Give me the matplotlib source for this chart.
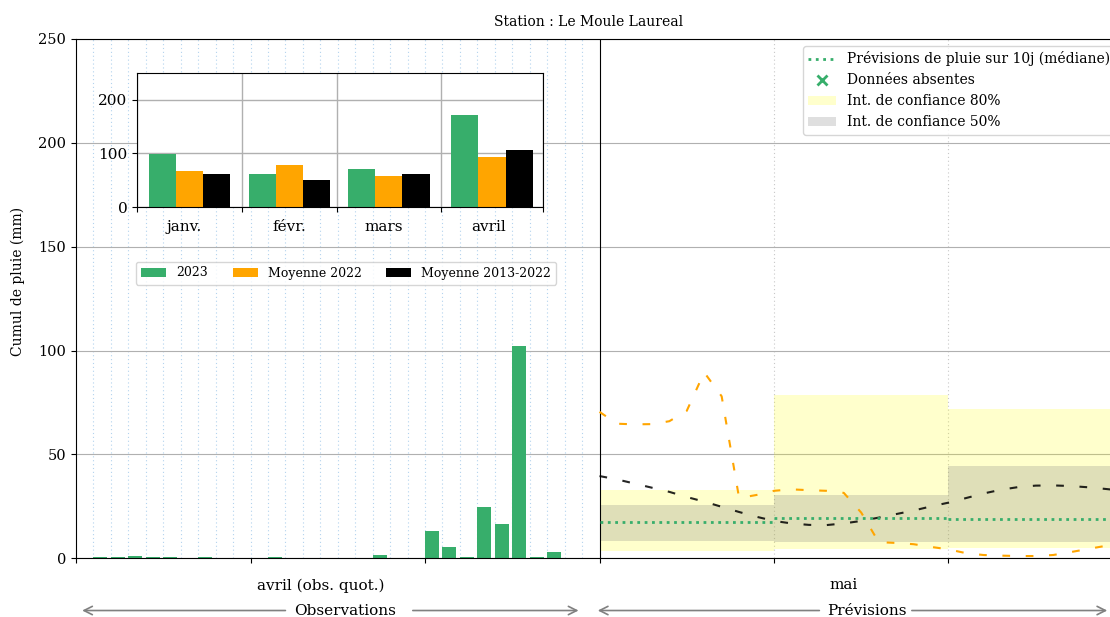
import numpy as np
import matplotlib
matplotlib.use("Agg")
import matplotlib.pyplot as plt
from matplotlib.lines import Line2D
from matplotlib.patches import Patch
import matplotlib.transforms as mtransforms

plt.rcParams['font.family'] = ['DejaVu Serif']
plt.rcParams['font.size'] = 10

#########
#########data#########
#########
station = "Station : Le Moule Laureal"

# daily observations for april (mm), one value per day slot
obs_days = np.arange(1, 30)
obs_rain = [0.6, 0.6, 1.2, 0.6, 0.6, 0.0, 0.6, 0.0, 0.0, 0.0,
            0.6, 0.0, 0.0, 0.0, 0.0, 0.0, 1.8, 0.0, 0.0, 13.3,
            5.6, 0.8, 24.5, 16.5, 102.0, 0.8, 3.0, 0.0, 0.0]

# forecast blocks of 10 days
fc_start = [30, 40, 50]
fc_median = [17.6, 19.3, 18.7]
fc_q10 = [3.5, 4.5, 5.1]
fc_q90 = [32.9, 78.7, 71.8]
fc_q25 = [8.5, 7.9, 8.0]
fc_q75 = [25.7, 30.6, 44.6]

# climatology curves over the forecast period
clim_days = np.arange(30, 61)
mean_2022 = [70.5, 64.8, 64.5, 64.6, 66.0, 71.0, 89.5, 78.0, 29.0, 30.5,
             32.5, 33.2, 32.8, 32.5, 31.5, 22.0, 7.8, 7.4, 6.8, 5.5,
             4.3, 2.5, 1.6, 1.3, 1.1, 1.1, 1.6, 3.0, 4.5, 6.0, 7.5]
mean_2013_2022 = [39.6, 38.0, 36.0, 34.0, 32.0, 29.5, 27.3, 24.8, 22.3, 20.0,
                  18.0, 16.8, 16.1, 16.0, 16.8, 18.0, 19.6, 21.3, 23.0, 25.0,
                  26.8, 29.0, 31.2, 33.0, 34.3, 35.0, 35.1, 34.8, 34.2, 33.4, 32.5]

# monthly totals (inset)
months = ["janv.", "févr.", "mars", "avril"]
month_len = [31, 28, 31, 30]
monthly_2023 = [99, 61, 70, 172]
monthly_2022 = [67.5, 78, 57, 93]
monthly_2013_2022 = [61, 51, 61, 107]

green = "#37ae6b"

#########
#########main axes#########
#########
fig = plt.figure(figsize=(11.1, 6.17), dpi=100)
ax = fig.add_axes([0.0685, 0.0951, 0.9432, 0.8417])

ax.set_xlim(0, 60)
ax.set_ylim(0, 250)
ax.set_yticks(np.arange(0, 251, 50))
ax.set_xticks(np.arange(0, 61, 10))
ax.set_xticklabels([])
ax.tick_params(axis="y", labelsize=10.5)
ax.yaxis.grid(True, color="#b0b0b0", lw=0.8)
ax.set_axisbelow(True)

# day separators in the observation part, and forecast block limits
ax.vlines(obs_days, 0, 250, colors="#b3d3ee", linestyles=(0, (1, 2.5)), lw=0.8, zorder=0.5)
ax.vlines([40, 50], 0, 250, colors="#c8c8c8", linestyles=(0, (1, 2.5)), lw=0.8, zorder=0.5)
ax.axvline(30, color="k", lw=0.8, zorder=3)

ax.bar(obs_days, obs_rain, width=0.8, align="edge", color=green, zorder=2)

# confidence intervals
q90h = [b - a for a, b in zip(fc_q10, fc_q90)]
q75h = [b - a for a, b in zip(fc_q25, fc_q75)]
ax.bar(fc_start, q90h, bottom=fc_q10, width=10, align="edge", color="yellow", alpha=0.2, zorder=1)
ax.bar(fc_start, q75h, bottom=fc_q25, width=10, align="edge", color="grey", alpha=0.25, zorder=1)
ax.hlines(fc_median, fc_start, [s + 10 for s in fc_start], colors=green,
          linestyles=(0, (1, 1.65)), lw=2, zorder=4)

ax.plot(clim_days, mean_2022, color="orange", lw=1.5, dashes=(3.7, 7.5), zorder=3)
ax.plot(clim_days, mean_2013_2022, color="k", lw=1.5, dashes=(3.7, 7.5), zorder=3, alpha=0.85)

ax.set_ylabel("Cumul de pluie (mm)")
ax.yaxis.set_label_coords(-0.049, 0.534)
fig.text(589 / 1110, 1 - 22 / 617, station, ha="center", va="center", fontsize=10)

# x labels and arrows under the axis
trans = mtransforms.blended_transform_factory(ax.transData, ax.transAxes)
ax.text(14, -0.052, "avril (obs. quot.)", transform=trans, ha="center", va="center", fontsize=11)
ax.text(44, -0.052, "mai", transform=trans, ha="center", va="center", fontsize=11)
ya = -0.1005
ax.text(15.4, ya, "Observations", transform=trans, ha="center", va="center", fontsize=11)
ax.text(45.3, ya, "Prévisions", transform=trans, ha="center", va="center", fontsize=11)
arrow = dict(arrowstyle="->,head_length=0.6,head_width=0.3", color="grey", lw=1.2,
             shrinkA=0, shrinkB=0)
for x0, x1 in [(12.0, 0.35), (19.3, 28.8), (42.6, 29.9), (47.9, 59.1)]:
    ax.annotate("", xy=(x1, ya), xytext=(x0, ya), xycoords=trans, textcoords=trans,
                arrowprops=arrow, annotation_clip=False)

handles = [Line2D([], [], color=green, ls=(0, (1, 1.65)), lw=2),
           Line2D([], [], color=green, marker="x", ls="none", markersize=7, mew=2),
           Patch(facecolor="yellow", alpha=0.2),
           Patch(facecolor="grey", alpha=0.25, edgecolor="none")]
labels = ["Prévisions de pluie sur 10j (médiane)", "Données absentes",
          "Int. de confiance 80%", "Int. de confiance 50%"]
ax.legend(handles, labels, loc="upper right")

#########
#########inset with monthly totals#########
#########
ins = fig.add_axes([0.1237, 0.6645, 0.3652, 0.2177])
bounds = np.concatenate([[0], np.cumsum(month_len)])
centers = bounds[:-1] + np.array(month_len) / 2
ins.bar(centers - 8, monthly_2023, width=8, color=green, label="2023")
ins.bar(centers, monthly_2022, width=8, color="orange", label="Moyenne 2022")
ins.bar(centers + 8, monthly_2013_2022, width=8, color="k", label="Moyenne 2013-2022")
ins.set_xlim(0, 120)
ins.set_ylim(0, 250)
ins.set_yticks([0, 100, 200])
ins.set_xticks(bounds)
ins.set_xticklabels([])
ins.set_xticks(bounds[:-1] + 14, minor=True)
ins.set_xticklabels(months, minor=True)
ins.tick_params(axis="x", which="minor", length=0, pad=9, labelsize=11)
ins.tick_params(axis="y", labelsize=11)
ins.grid(True, which="major", color="#b0b0b0", lw=1)
ins.set_axisbelow(True)
ins.legend(loc="center", ncol=3, fontsize=9, bbox_to_anchor=(346 / 1110, 1 - 273 / 617),
           bbox_transform=fig.transFigure)

fig.savefig("out.png", dpi=100)
